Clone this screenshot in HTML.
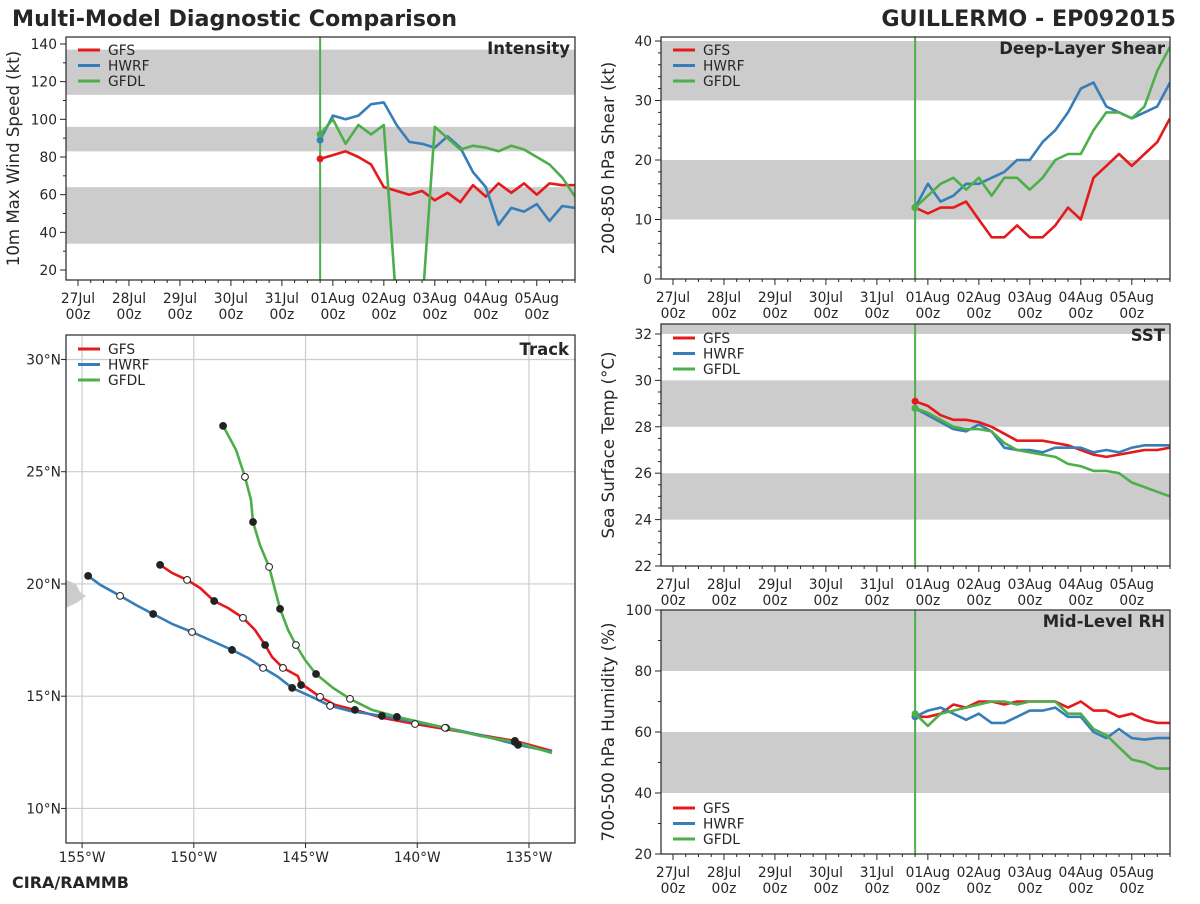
<!DOCTYPE html>
<html><head><meta charset="utf-8">
<style>
html,body{margin:0;padding:0;background:#fff;}
body{width:1200px;height:900px;overflow:hidden;font-family:"DejaVu Sans","Liberation Sans",sans-serif;}
svg text{font-family:"DejaVu Sans","Liberation Sans",sans-serif;fill:#262626;}
</style></head>
<body>
<svg id="root" width="1200" height="900" xmlns="http://www.w3.org/2000/svg">
<text x="12" y="26" font-size="22.2" font-weight="bold">Multi-Model Diagnostic Comparison</text>
<text x="1176" y="26" font-size="22.2" font-weight="bold" text-anchor="end">GUILLERMO - EP092015</text>
<text x="12" y="888" font-size="16" font-weight="bold">CIRA/RAMMB</text>
</svg>
<script>
const models = ['GFS','HWRF','GFDL'];
const colors = ['#e41a1c','#377eb8','#4daf4a'];
const dateLabels = ['27Jul','28Jul','29Jul','30Jul','31Jul','01Aug','02Aug','03Aug','04Aug','05Aug'];
const initDay = 4.75;
const intGFS  = [79,81,83,80,76,64,62,60,62,57,61,56,65,59,66,61,66,60,66,65,65];
const intHWRF = [89,102,100,102,108,109,97,88,87,85,91,85,72,64,44,53,51,55,46,54,53];
const intGFDL = [92,100,87,97,92,97,0,0,0,96,90,84,86,85,83,86,84,80,76,69,59];
const shrGFS  = [12,11,12,12,13,10,7,7,9,7,7,9,12,10,17,19,21,19,21,23,27];
const shrHWRF = [12,16,13,14,16,16,17,18,20,20,23,25,28,32,33,29,28,27,28,29,33];
const shrGFDL = [12,14,16,17,15,17,14,17,17,15,17,20,21,21,25,28,28,27,29,35,39];
const sstGFS  = [29.1,28.9,28.5,28.3,28.3,28.2,28.0,27.7,27.4,27.4,27.4,27.3,27.2,27.0,26.8,26.7,26.8,26.9,27.0,27.0,27.1];
const sstHWRF = [28.8,28.5,28.2,27.9,27.8,28.1,27.8,27.1,27.0,27.0,26.9,27.1,27.1,27.1,26.9,27.0,26.9,27.1,27.2,27.2,27.2];
const sstGFDL = [28.8,28.6,28.3,28.0,27.9,27.9,27.8,27.3,27.0,26.9,26.8,26.7,26.4,26.3,26.1,26.1,26.0,25.6,25.4,25.2,25.0];
const rhGFS   = [65,65,66,69,68,70,70,69,70,70,70,70,68,70,67,67,65,66,64,63,63];
const rhHWRF  = [65,67,68,66,64,66,63,63,65,67,67,68,65,65,60,58,61,58,57.5,58,58];
const rhGFDL  = [66,62,66,67,68,69,70,70,69,70,70,70,66,66,61,59,55,51,50,48,48];
const trkGFSlon  = [-151.51,-150.97,-150.30,-149.72,-149.09,-148.47,-147.80,-147.26,-146.81,-146.50,-146.01,-145.34,-145.20,-144.98,-144.35,-143.68,-142.79,-141.53,-140.10,-138.53,-135.63,-133.97];
const trkGFSlat  = [20.85,20.49,20.18,19.82,19.24,18.93,18.49,17.95,17.28,16.75,16.26,15.90,15.50,15.41,14.97,14.61,14.39,14.03,13.76,13.50,13.01,12.56];
const trkHWRFlon = [-154.73,-154.19,-153.30,-152.58,-151.82,-150.97,-150.08,-149.18,-148.29,-147.57,-146.90,-146.23,-145.60,-144.71,-143.90,-143.01,-141.58,-140.10,-138.71,-137.19,-135.49,-133.97];
const trkHWRFlat = [20.36,19.96,19.47,19.06,18.66,18.22,17.86,17.46,17.06,16.70,16.26,15.86,15.37,14.97,14.57,14.34,14.12,13.85,13.59,13.27,12.83,12.52];
const trkGFDLlon = [-148.69,-148.11,-147.71,-147.44,-147.35,-147.04,-146.63,-146.36,-146.14,-145.78,-145.43,-145.02,-144.53,-143.77,-143.01,-142.02,-140.91,-139.88,-138.76,-137.19,-135.63,-133.97];
const trkGFDLlat = [27.04,25.97,24.77,23.74,22.76,21.74,20.76,19.73,18.89,17.95,17.28,16.61,15.99,15.37,14.88,14.39,14.08,13.85,13.59,13.23,12.96,12.47];
const lonTicks = [-155,-150,-145,-140,-135];
const latTicks = [10,15,20,25,30];

const NS='http://www.w3.org/2000/svg';
const root=document.getElementById('root');
function mk(tag,attrs,parent){const e=document.createElementNS(NS,tag);for(const k in attrs)e.setAttribute(k,attrs[k]);(parent||root).appendChild(e);return e;}

function timePanel(p){
  const g=mk('g',{});
  
  
  const X=d=>p.x0+(d-(-0.235))*(p.x1-p.x0)/(9.75+0.235);
  const Y=v=>p.y1-(v-p.ymin)*(p.y1-p.y0)/(p.ymax-p.ymin);
  p.bands.forEach(b=>{const t=Math.min(b[1],p.ymax),bo=Math.max(b[0],p.ymin);
    const r=mk('rect',{x:p.x0,y:Y(t),width:p.x1-p.x0,height:Y(bo)-Y(t),fill:'#cccccc'},g);
    
    });
  const vl=mk('line',{x1:X(initDay),x2:X(initDay),y1:p.y0,y2:p.y1,stroke:'#4daf4a','stroke-width':2},g);
  
  
  const cp='clip-'+p.name;
  const cl=mk('clipPath',{id:cp},g);mk('rect',{x:p.x0,y:p.y0,width:p.x1-p.x0,height:p.y1-p.y0},cl);
  p.series.forEach((s,i)=>{
    const pts=s.map((v,k)=>X(initDay+k*0.25).toFixed(1)+','+Y(v).toFixed(1)).join(' ');
    const pl=mk('polyline',{points:pts,fill:'none',stroke:colors[i],'stroke-width':2.6,'stroke-linejoin':'round','clip-path':'url(#'+cp+')'},g);
    
    
    const c=mk('circle',{cx:X(initDay),cy:Y(s[0]),r:3.5,fill:colors[i]},g);
    
    
  });
  const fr=mk('rect',{x:p.x0,y:p.y0,width:p.x1-p.x0,height:p.y1-p.y0,fill:'none',stroke:'#262626','stroke-width':1.2},g);
  
  
  for(let v=p.ymin0;v<=p.ymax+1e-6;v+=p.minor){if(v<p.ymin-1e-6)continue;
    const major=Math.abs(v/p.major-Math.round(v/p.major))<1e-6;
    mk('line',{x1:p.x0,x2:p.x0-(major?6:3),y1:Y(v),y2:Y(v),stroke:'#262626','stroke-width':1},g);
    if(major){const t=mk('text',{x:p.x0-9,y:Y(v)+5,'font-size':13.8,'text-anchor':'end'},g);t.textContent=String(Math.round(v));
      
      }
  }
  for(let d=-0.25;d<=9.75+1e-6;d+=0.25){const x=X(d);if(x<p.x0-0.5)continue;
    const major=Math.abs(d-Math.round(d))<1e-6;
    mk('line',{x1:x,x2:x,y1:p.y1,y2:p.y1+(major?6:3),stroke:'#262626','stroke-width':1},g);}
  dateLabels.forEach((l,k)=>{const x=X(k);
    const t=mk('text',{x:x,y:p.y1+23,'font-size':13.8,'text-anchor':'middle'},g);t.textContent=l;
    
    
    const t2=mk('text',{x:x,y:p.y1+39,'font-size':13.8,'text-anchor':'middle'},g);t2.textContent='00z';
    
    });
  const yl=mk('text',{x:0,y:0,'font-size':16.6,'text-anchor':'middle',transform:'translate('+(p.x0-47)+','+((p.y0+p.y1)/2)+') rotate(-90)'},g);
  yl.textContent=p.ylabel;
  
  
  const tt=mk('text',{x:p.x1-5,y:p.y0+17,'font-size':16.5,'font-weight':'bold','text-anchor':'end'},g);tt.textContent=p.title;
  
  
  legend(g,p.x0,p.legY);
}
function legend(g,x0,y0){
  models.forEach((m,i)=>{const y=y0+i*15.5;
    const ln=mk('line',{x1:x0+12,x2:x0+34,y1:y,y2:y,stroke:colors[i],'stroke-width':3},g);
    
    
    const t=mk('text',{x:x0+42,y:y+5,'font-size':13.8},g);t.textContent=m;
    
    });
}
timePanel({name:'intensity',x0:66,x1:575,y0:37,y1:280,ymin:14.7,ymax:143.7,ymin0:10,major:20,minor:10,
  bands:[[34,64],[83,96],[113,137]],series:[intGFS,intHWRF,intGFDL],ylabel:'10m Max Wind Speed (kt)',title:'Intensity',legY:50});
timePanel({name:'shear',x0:661,x1:1170,y0:37,y1:279,ymin:0,ymax:40.67,ymin0:0,major:10,minor:2,
  bands:[[10,20],[30,40]],series:[shrGFS,shrHWRF,shrGFDL],ylabel:'200-850 hPa Shear (kt)',title:'Deep-Layer Shear',legY:50});
timePanel({name:'sst',x0:661,x1:1170,y0:324,y1:566,ymin:22,ymax:32.43,ymin0:22,major:2,minor:0.5,
  bands:[[24,26],[28,30],[32,40]],series:[sstGFS,sstHWRF,sstGFDL],ylabel:'Sea Surface Temp (°C)',title:'SST',legY:338});
timePanel({name:'rh',x0:661,x1:1170,y0:610,y1:854,ymin:20,ymax:100,ymin0:20,major:20,minor:10,
  bands:[[40,60],[80,100]],series:[rhGFS,rhHWRF,rhGFDL],ylabel:'700-500 hPa Humidity (%)',title:'Mid-Level RH',legY:808});

(function(){
  const x0=66,x1=575,y0=335,y1=843,lon0=-155.72,lon1=-132.94,lat0=8.46,lat1=31.09;
  const g=mk('g',{});
  
  
  const X=v=>x0+(v-lon0)*(x1-x0)/(lon1-lon0);
  const Y=v=>y1-(v-lat0)*(y1-y0)/(lat1-lat0);
  lonTicks.forEach(v=>{const gl=mk('line',{x1:X(v),x2:X(v),y1:y0,y2:y1,stroke:'#cccccc','stroke-width':1.2},g);
    
    
    mk('line',{x1:X(v),x2:X(v),y1:y1,y2:y1+5,stroke:'#262626'},g);
    const t=mk('text',{x:X(v),y:y1+19,'font-size':13.8,'text-anchor':'middle'},g);t.textContent=Math.abs(v)+'°W';
    
    });
  latTicks.forEach(v=>{const gl=mk('line',{x1:x0,x2:x1,y1:Y(v),y2:Y(v),stroke:'#cccccc','stroke-width':1.2},g);
    
    
    mk('line',{x1:x0,x2:x0-5,y1:Y(v),y2:Y(v),stroke:'#262626'},g);
    const t=mk('text',{x:x0-5,y:Y(v)+5,'font-size':13.8,'text-anchor':'end'},g);t.textContent=v+'°N';
    
    });
  const sym=mk('path',{d:'M66,580 L76,584 L80,592 L86,596 L78,602 L66,608 Z',fill:'#cccccc'},g);
  
  
  const tr=[[trkGFSlon,trkGFSlat],[trkHWRFlon,trkHWRFlat],[trkGFDLlon,trkGFDLlat]];
  tr.forEach((t,i)=>{const pts=t[0].map((v,k)=>X(v).toFixed(1)+','+Y(t[1][k]).toFixed(1)).join(' ');
    const pl=mk('polyline',{points:pts,fill:'none',stroke:colors[i],'stroke-width':2.6,'stroke-linejoin':'round'},g);
    
    });
  tr.forEach((t,i)=>{t[0].forEach((v,k)=>{if(k%2)return;
    const filled=(k/2)%2===0;
    const c=mk('circle',{cx:X(v),cy:Y(t[1][k]),r:3.4,fill:filled?'#222':'#fff',stroke:'#222','stroke-width':1},g);
    
    });});
  const fr=mk('rect',{x:x0,y:y0,width:x1-x0,height:y1-y0,fill:'none',stroke:'#262626','stroke-width':1.2},g);
  
  
  const tt=mk('text',{x:x1-6,y:y0+20,'font-size':16.5,'font-weight':'bold','text-anchor':'end'},g);tt.textContent='Track';
  
  
  legend(g,x0,y0+14);
})();
</script>
</body></html>
